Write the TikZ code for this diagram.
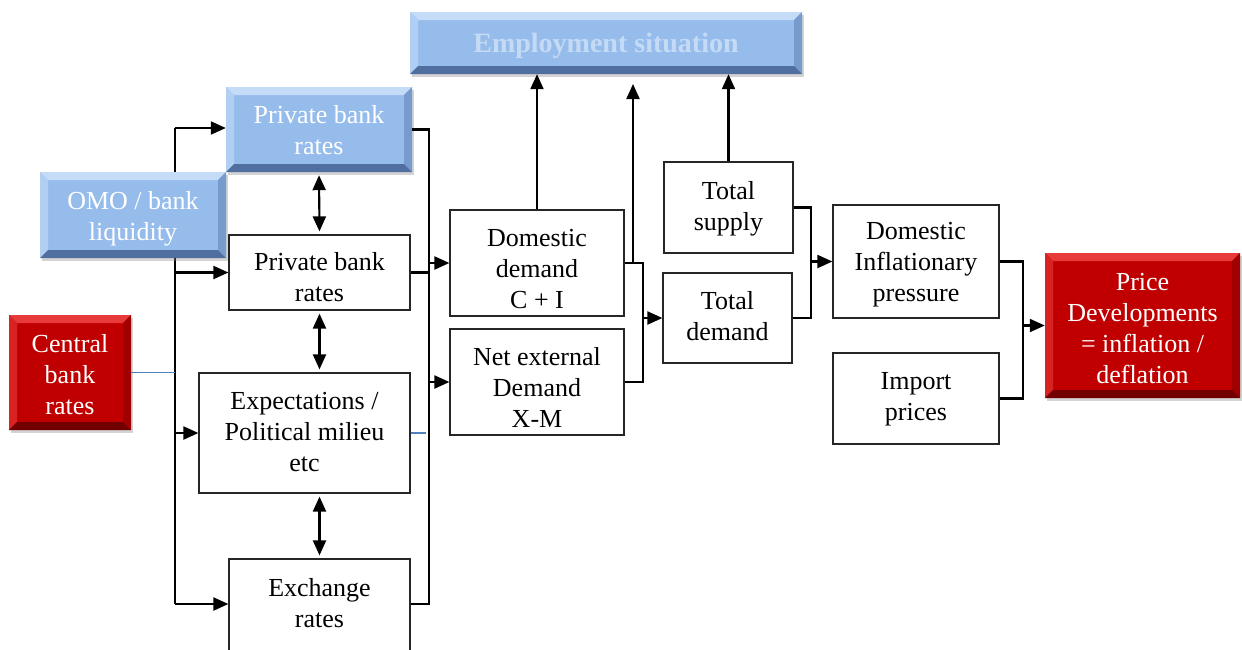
\documentclass[tikz,border=0pt]{standalone}
\usepackage{fontspec}
\setmainfont{Liberation Serif}
\usetikzlibrary{arrows.meta,shadows}
\definecolor{bluebase}{RGB}{150,188,236}
\definecolor{bluelight}{RGB}{196,220,248}
\definecolor{blueside}{RGB}{120,155,205}
\definecolor{bluedark}{RGB}{80,110,160}
\definecolor{redbase}{RGB}{192,0,0}
\definecolor{redlight}{RGB}{232,58,58}
\definecolor{redside}{RGB}{160,0,0}
\definecolor{reddark}{RGB}{115,0,0}
\definecolor{thinblue}{RGB}{79,129,189}
\tikzset{
  txt/.style={font=\fontsize{26}{31}\selectfont, align=center, inner sep=0pt},
  bev/.style n args={4}{fill=#1, drop shadow={shadow xshift=2pt,shadow yshift=-3pt,opacity=0.35},
    path picture={
      \path (path picture bounding box.north west) coordinate (@nw)
            (path picture bounding box.north east) coordinate (@ne)
            (path picture bounding box.south west) coordinate (@sw)
            (path picture bounding box.south east) coordinate (@se);
      \fill[#2] (@nw) -- (@ne) -- ([shift={(-8pt,-8pt)}]@ne) -- ([shift={(8pt,-8pt)}]@nw) -- cycle;
      \fill[#2!60!#1] (@nw) -- ([shift={(8pt,-8pt)}]@nw) -- ([shift={(8pt,8pt)}]@sw) -- (@sw) -- cycle;
      \fill[#3] (@ne) -- ([shift={(-8pt,-8pt)}]@ne) -- ([shift={(-8pt,8pt)}]@se) -- (@se) -- cycle;
      \fill[#4] (@sw) -- ([shift={(8pt,8pt)}]@sw) -- ([shift={(-8pt,8pt)}]@se) -- (@se) -- cycle;
    }},
  bluebox/.style={bev={bluebase}{bluelight}{blueside}{bluedark}},
  redbox/.style={bev={redbase}{redlight}{redside}{reddark}},
  plain/.style={draw=black!85, line width=1.2pt},
  wt/.style={txt, text=white},
  bt/.style={txt, text=black},
  conn/.style={line width=2.1pt},
  arr/.style={conn, -{Triangle[length=15pt,width=13pt]}},
  darr/.style={conn, {Triangle[length=15pt,width=13pt]}-{Triangle[length=15pt,width=13pt]}, shorten <=3pt, shorten >=3pt},
  thinb/.style={draw=thinblue, line width=1.2pt},
}
\begin{document}
\begin{tikzpicture}[x=1pt,y=-1pt]
\useasboundingbox (0,0) rectangle (1242,649);
\clip (0,0) rectangle (1242,649);
% bus coordinates
\coordinate (lbT) at (175,128);
\coordinate (lbB) at (175,604);
\coordinate (rbT) at (429,129.5);
\coordinate (rbB) at (429,604);
\coordinate (up1top) at (633,84);
% left bus (behind OMO box)
\draw[conn] (lbT) -- (lbB);
% nodes
\node[bluebox, minimum width=392, minimum height=62,
  label={[txt, text=white!45!bluebase, yshift=-3pt]center:{\fontsize{28}{31}\selectfont\bfseries Employment situation}}] (emp) at (606,43) {};
\node[bluebox, minimum width=186, minimum height=85,
  label={[wt, yshift=-1pt]center:{Private bank\\rates}}] (pbr1) at (319,129.5) {};
\node[bluebox, minimum width=186, minimum height=86,
  label={[wt, yshift=-3.5pt]center:{OMO / bank\\liquidity}}] (omo) at (133,215) {};
\node[redbox, minimum width=122, minimum height=115,
  label={[wt, yshift=-2pt]center:{Central\\bank\\rates}}] (cbr) at (70,372.5) {};
\node[plain, minimum width=181, minimum height=75,
  label={[bt, yshift=-5pt]center:{Private bank\\rates}}] (pbr2) at (319.5,272.5) {};
\node[plain, minimum width=211, minimum height=120,
  label={[bt, yshift=1pt]center:{Expectations /\\Political milieu\\etc}}] (exp) at (304.5,433) {};
\node[plain, minimum width=181, minimum height=94,
  label={[bt, yshift=3pt]center:{Exchange\\rates}}] (exr) at (319.5,606) {};
\node[plain, minimum width=174, minimum height=106,
  label={[bt, yshift=-6pt]center:{Domestic\\demand\\C + I}}] (dd) at (537,263) {};
\node[plain, minimum width=174, minimum height=106,
  label={[bt, yshift=-5pt]center:{Net external\\Demand\\X-M}}] (ned) at (537,382) {};
\node[plain, minimum width=129, minimum height=91,
  label={[bt, yshift=-1pt]center:{Total\\supply}}] (ts) at (728.5,207.5) {};
\node[plain, minimum width=129, minimum height=90,
  label={[bt, yshift=2pt]center:{Total\\demand}}] (td) at (727.5,318) {};
\node[plain, minimum width=166, minimum height=113,
  label={[bt, yshift=-3.5pt]center:{Domestic\\Inflationary\\pressure}}] (dip) at (916,261.5) {};
\node[plain, minimum width=166, minimum height=91,
  label={[bt, yshift=-1pt]center:{Import\\prices}}] (imp) at (916,398.5) {};
\node[redbox, minimum width=195, minimum height=145,
  label={[wt, yshift=-3pt]center:{Price\\Developments\\= inflation /\\deflation}}] (pd) at (1142.5,325.5) {};
% left bus arrows
\draw[arr] (lbT) -- (lbT -| pbr1.west);
\draw[arr] (pbr2.west -| lbT) -- (pbr2.west);
\draw[arr] (exp.west -| lbT) -- (exp.west);
\draw[arr] (lbB) -- (lbB -| exr.west);
\draw[thinb] (cbr.east) -- (cbr.east -| lbT);
% double arrows
\draw[darr] (pbr1.south) -- (pbr2.north);
\draw[darr] (pbr2.south) -- (pbr2.south |- exp.north);
\draw[darr] (exr.north |- exp.south) -- (exr.north);
% right bus
\draw[conn] (pbr1.east) -- (rbT) -- (rbB) -- (exr.east |- rbB);
\draw[conn] (pbr2.east) -- (pbr2.east -| rbT);
\draw[thinb] (exp.east) -- ++(15,0);
\draw[arr] (dd.west -| rbT) -- (dd.west);
\draw[arr] (ned.west -| rbT) -- (ned.west);
% up arrows
\draw[arr] (dd.north) -- (dd.north |- emp.south);
\draw[arr] (ts.north) -- (ts.north |- emp.south);
\draw[arr] (up1top |- dd.east) -- (up1top);
% bracket 1
\draw[conn] (dd.east) -- ++(18,0) coordinate (b1t) -- (b1t |- ned.east) -- (ned.east);
\draw[arr] (b1t |- td.west) -- (td.west);
% bracket 2
\draw[conn] (ts.east) -- ++(17,0) coordinate (b2t) -- (b2t |- td.east) -- (td.east);
\draw[arr] (b2t |- dip.west) -- (dip.west);
% bracket 3
\draw[conn] (dip.east) -- ++(23,0) coordinate (b3t) -- (b3t |- imp.east) -- (imp.east);
\draw[arr] (b3t |- pd.west) -- (pd.west);
\end{tikzpicture}
\end{document}
